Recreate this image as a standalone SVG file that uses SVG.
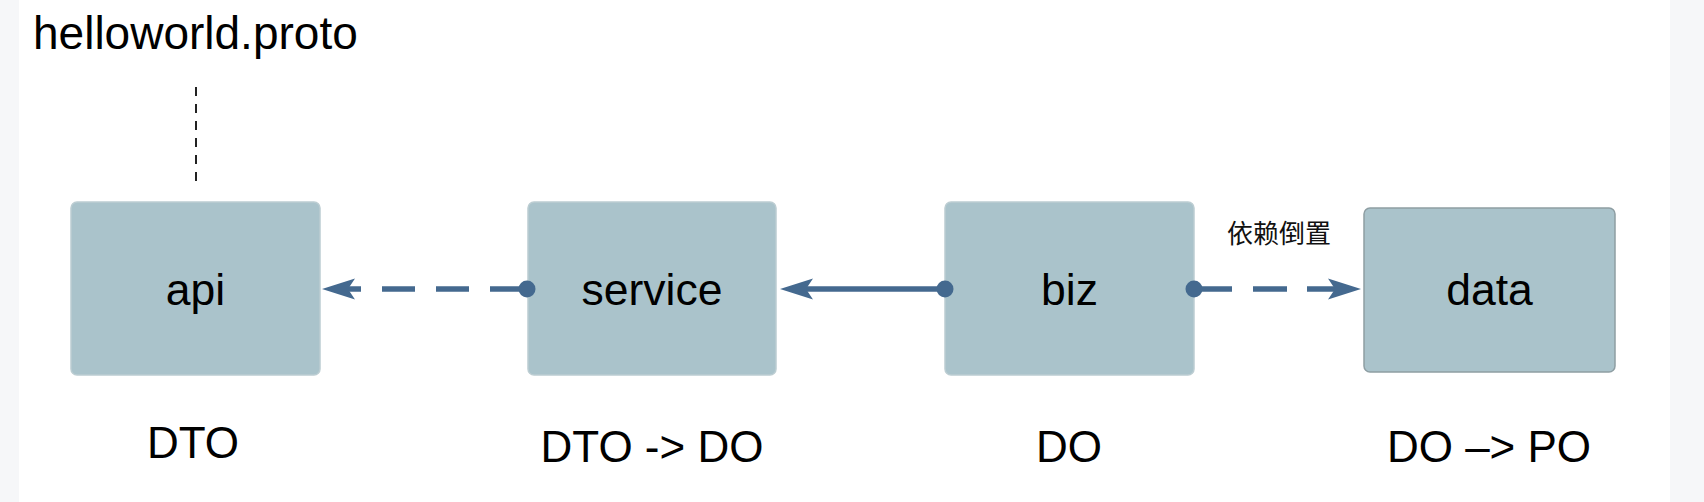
<svg xmlns="http://www.w3.org/2000/svg" width="1704" height="502" viewBox="0 0 1704 502">
  <style>
    .bg { fill: #ffffff; }
    .side { fill: #f6f7f9; }
    .box { fill: #aac3cb; stroke: #bccdd2; stroke-width: 1.5; }
    .box-dark { fill: #aac3cb; stroke: #8e9ea3; stroke-width: 1.5; }
    .lbl { font-family: "Liberation Sans", Arial, Helvetica, sans-serif; font-size: 44.5px; fill: #000; text-anchor: middle; }
    .sub { font-family: "Liberation Sans", Arial, Helvetica, sans-serif; font-size: 44px; fill: #000; text-anchor: middle; }
    .title { font-family: "Liberation Sans", Arial, Helvetica, sans-serif; font-size: 46px; fill: #000; }
    .cjk { font-family: "Liberation Sans", "Noto Sans CJK SC", sans-serif; font-size: 26px; fill: #111; text-anchor: middle; }
    .conn { stroke: #44698f; stroke-width: 5.5; fill: none; }
    .dash1 { stroke-dasharray: 37 21 33 21 33 200; }
    .dash3 { stroke-dasharray: 38 21 34 20; }
    .head { fill: #44698f; }
    .guide { stroke: #222; stroke-width: 2; stroke-dasharray: 9 8; fill: none; }
  </style>
  <rect class="bg" x="0" y="0" width="1704" height="502"/>
  <rect class="side" x="0" y="0" width="19" height="502"/>
  <rect class="side" x="1670" y="0" width="34" height="502"/>

  <g id="proto">
    <text class="title" x="33" y="49">helloworld.proto</text>
    <line class="guide" x1="196" y1="87" x2="196" y2="185"/>
  </g>

  <g id="api">
    <rect class="box" x="71" y="202" width="249" height="173" rx="6"/>
    <text class="lbl" x="195.5" y="305">api</text>
  </g>
  <g id="service">
    <rect class="box" x="528" y="202" width="248" height="173" rx="6"/>
    <text class="lbl" x="652" y="305">service</text>
  </g>
  <g id="biz">
    <rect class="box" x="945" y="202" width="249" height="173" rx="6"/>
    <text class="lbl" x="1069.5" y="305">biz</text>
  </g>
  <g id="data">
    <rect class="box-dark" x="1364" y="208" width="251" height="164" rx="6"/>
    <text class="lbl" x="1489.5" y="305">data</text>
  </g>

  <g id="connectors">
    <g id="service-api">
      <line class="conn dash1" x1="527" y1="289" x2="361" y2="289"/>
      <line class="conn" x1="361" y1="289" x2="348" y2="289"/>
      <circle class="head" cx="527" cy="289" r="8.5"/>
      <polygon class="head" points="322,289 355,278.5 348,289 355,299.5"/>
    </g>
    <g id="biz-service">
      <line class="conn" x1="945" y1="289" x2="806" y2="289"/>
      <circle class="head" cx="945" cy="289" r="8.5"/>
      <polygon class="head" points="780,289 813,278.5 806,289 813,299.5"/>
    </g>
    <g id="biz-data">
      <line class="conn dash3" x1="1194" y1="289" x2="1336" y2="289"/>
      <circle class="head" cx="1194" cy="289" r="8.5"/>
      <polygon class="head" points="1361,289 1328,278.5 1335,289 1328,299.5"/>
      <text class="cjk" x="1279" y="243">依赖倒置</text>
    </g>
  </g>

  <g id="labels">
    <text class="sub" x="193" y="458">DTO</text>
    <text class="sub" x="652" y="462">DTO -&gt; DO</text>
    <text class="sub" x="1069" y="462">DO</text>
    <text class="sub" x="1489" y="462">DO –&gt; PO</text>
  </g>
</svg>
